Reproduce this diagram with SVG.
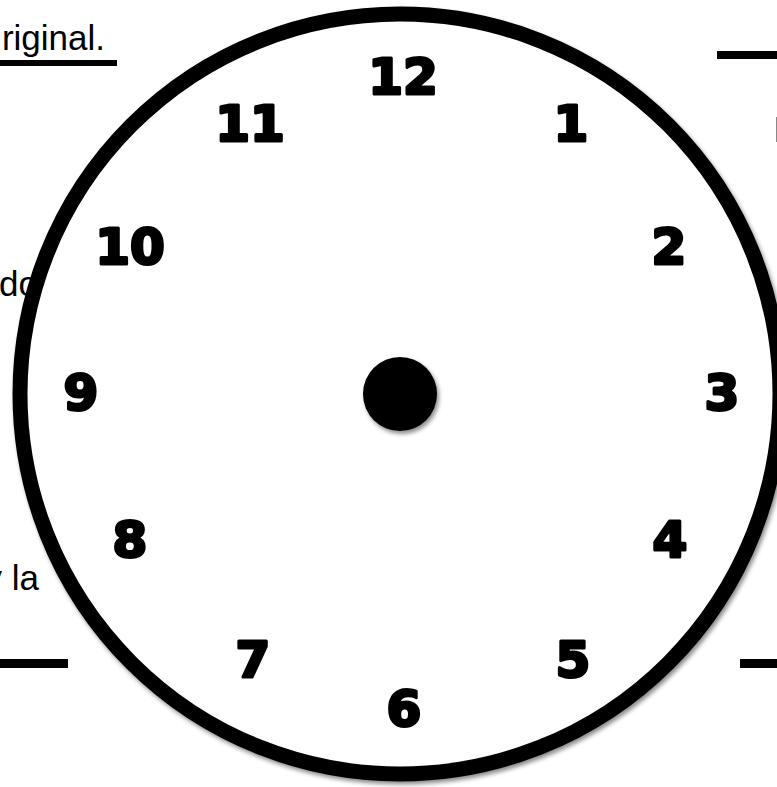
<svg xmlns="http://www.w3.org/2000/svg" width="777" height="787" viewBox="0 0 777 787">
<defs>
<filter id="sh" x="-10%" y="-10%" width="120%" height="120%">
<feDropShadow dx="2" dy="3" stdDeviation="2" flood-color="#000" flood-opacity="0.45"/>
</filter>
</defs>
<style>
.bg{font-family:"Liberation Sans","Open Sans",sans-serif;font-size:35px;fill:#000}
.num{font-family:"DejaVu Sans","Liberation Sans",sans-serif;font-weight:bold;font-size:50px;fill:#000;stroke:#000;stroke-width:3;stroke-linejoin:round;text-anchor:middle}
</style>
<rect width="777" height="787" fill="#fff"/>
<g id="page">
<text class="bg" x="105" y="50" text-anchor="end">riginal.</text>
<rect x="0" y="60" width="117" height="6" fill="#000"/>
<text class="bg" x="-1" y="296">do</text>
<text class="bg" x="39" y="590" text-anchor="end">y la</text>
<rect x="717" y="51" width="60" height="8" fill="#000"/>
<rect x="776" y="117" width="1.5" height="25" fill="#888"/>
<rect x="0" y="659" width="68" height="9" fill="#000"/>
<rect x="740" y="659" width="37" height="9" fill="#000"/>
</g>
<g id="clock">
<circle cx="400" cy="394" r="380" fill="#fff" stroke="#000" stroke-width="15" filter="url(#sh)"/>
<circle cx="400" cy="394" r="37" fill="#000" filter="url(#sh)"/>
<text class="num" x="403" y="94">12</text>
<text class="num" x="250" y="141">11</text>
<text class="num" x="571" y="141">1</text>
<text class="num" x="130" y="264">10</text>
<text class="num" x="669" y="264">2</text>
<text class="num" x="81" y="410">9</text>
<text class="num" x="722" y="410">3</text>
<text class="num" x="130" y="557">8</text>
<text class="num" x="670" y="557">4</text>
<text class="num" x="253" y="677">7</text>
<text class="num" x="573" y="677">5</text>
<text class="num" x="404" y="726">6</text>
</g>
</svg>
